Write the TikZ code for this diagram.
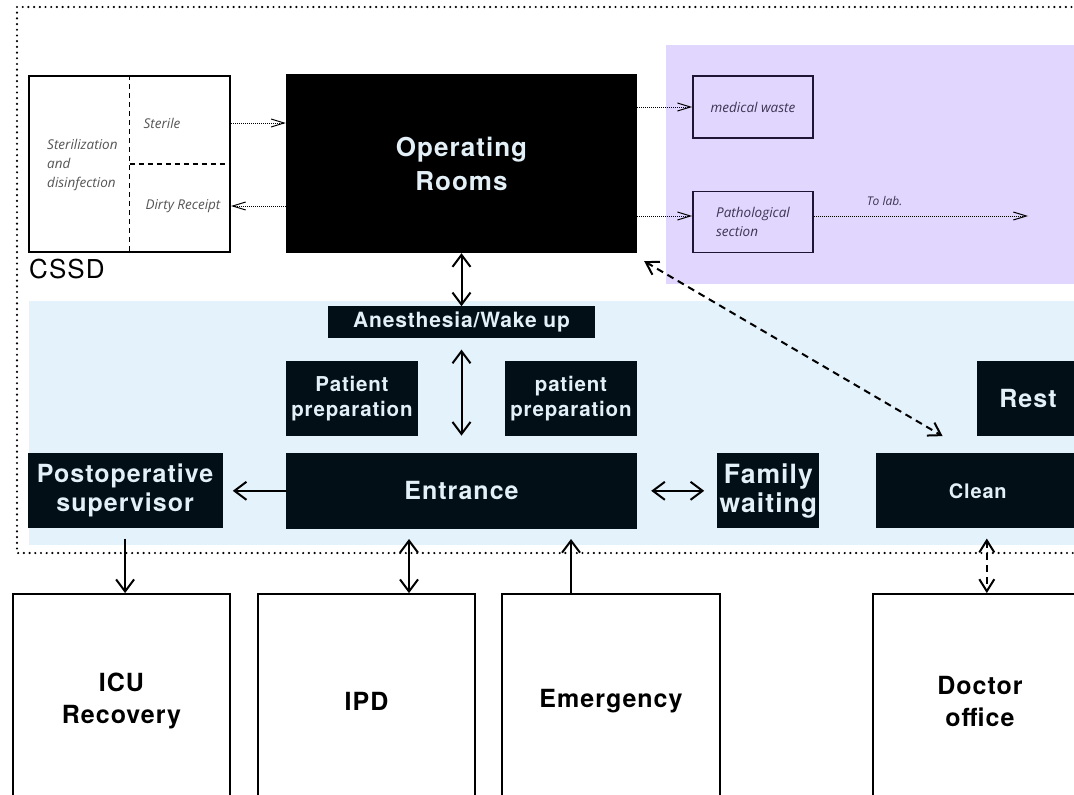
\documentclass[tikz,border=0pt]{standalone}
\usepackage{fontspec}
\setmainfont{TeX Gyre Heros}
\newfontfamily\heavyfont[LetterSpace=4]{TeX Gyre Heros}
\newfontfamily\notefont{Open Sans}
\usepackage{tikz}
\usetikzlibrary{arrows.meta, positioning, calc}
\definecolor{roombg}{RGB}{2,15,23}
\definecolor{roomtext}{RGB}{228,240,247}
\definecolor{zoneblue}{RGB}{228,243,251}
\definecolor{zonepurple}{RGB}{224,214,254}
\definecolor{wasteline}{RGB}{30,20,51}
\definecolor{wastetext}{RGB}{60,52,82}
\definecolor{notegray}{RGB}{85,85,85}
\newcommand\roomfont[2]{\heavyfont\bfseries\fontsize{#1}{#2}\selectfont}
\tikzset{
  roombox/.style 2 args={rectangle, fill=roombg, text=roomtext, inner sep=0pt,
                 align=center, font=\roomfont{#1}{#2}},
  wardbox/.style={rectangle, draw=black, line width=1.8pt, fill=white,
                 inner sep=0pt, align=center, font=\roomfont{25}{32}},
  cssdbox/.style={rectangle, draw=black, line width=2pt, fill=white, inner sep=0pt},
  wastebox/.style={rectangle, draw=wasteline, line width=1.8pt, text=wastetext,
                 inner sep=0pt, align=left, font=\notefont\itshape\fontsize{13.5}{19}\selectfont},
  notetext/.style={inner sep=0pt, text=notegray, align=left,
                 font=\notefont\itshape\fontsize{13.5}{19}\selectfont},
  splitline/.style={line width=1.2pt, dash pattern=on 5pt off 4pt},
  fencedots/.style={line width=2.4pt, line cap=round, dash pattern=on 0pt off 5.7pt},
  oneway/.style={-{Straight Barb[length=12pt,width=18pt]}, line width=2pt},
  twoway/.style={{Straight Barb[length=12pt,width=18pt]}-{Straight Barb[length=12pt,width=18pt]},
                 line width=2pt},
  dashtwoway/.style={{Straight Barb[length=12pt,width=15pt]}-{Straight Barb[length=12pt,width=15pt]},
                 line width=2pt, dash pattern=on 7pt off 5pt},
  dotflow/.style={-{Straight Barb[length=13pt,width=8pt]}, line width=1pt,
                 dash pattern=on 1pt off 1pt},
}

\begin{document}
\begin{tikzpicture}[x=1pt, y=-1pt]
  \clip (0,0) rectangle (1074,795);
  % zones
  \fill[zonepurple] (666,45) rectangle (1100,284);
  \fill[zoneblue] (29,301) rectangle (1100,545);
  \draw[fencedots] (1100,7) -| (17,553) -- (1100,553);

  % CSSD
  \node[cssdbox, minimum width=201pt, minimum height=176pt] (cssd) at (129.5,164) {};
  \draw[splitline] (cssd.north) -- (cssd.south);
  \draw[splitline] (cssd.center) -- (cssd.east);
  \node[notetext, anchor=west] (sterdis) at (47,165) {Sterilization\\and\\disinfection};
  \node[notetext] (sterile) at (162,123) {Sterile};
  \node[notetext] (dirty) at (183,206) {Dirty Receipt};
  \node[inner sep=0pt, anchor=base west, font=\heavyfont\fontsize{26}{30}\selectfont]
    (cssdname) at (29,278) {CSSD};

  % operating rooms and waste
  \node[roombox={26}{34}, fill=black, minimum width=351pt, minimum height=179pt]
    (or) at (461.5,163.5) {Operating\\Rooms};
  \node[wastebox, minimum width=120pt, minimum height=62pt] (waste) at (753,107) {medical waste};
  \node[wastebox, minimum width=120pt, minimum height=61pt] (patho) at (753,222) {Pathological\\section};
  \coordinate (pathin) at ([yshift=6pt]patho.west);
  \coordinate (labexit) at (1028,216);

  % patient flow
  \node[roombox={21}{24}, minimum width=267pt, minimum height=32pt, below=53pt of or]
    (anes) {Anesthesia/Wake up};
  \node[roombox={25}{28}, minimum width=351pt, minimum height=76pt, below=114pt of anes]
    (entrance) {Entrance};
  \node[roombox={20.5}{25}, minimum width=132pt, minimum height=75pt] (prepleft) at (352,398.5)
    {Patient\\preparation};
  \node[roombox={20.5}{25}, minimum width=132pt, minimum height=75pt] (prepright) at (571,398.5)
    {patient\\preparation};
  \node[roombox={25}{29}, minimum width=195pt, minimum height=75pt, left=63pt of entrance]
    (postop) {Postoperative\\supervisor};
  \node[roombox={26.5}{29}, minimum width=102pt, minimum height=75pt, right=80pt of entrance]
    (family) {Family\\waiting};
  \node[roombox={20}{23}, minimum width=204pt, minimum height=75pt, right=56pt of family]
    (clean) {Clean};
  \node[roombox={25}{29}, minimum width=102pt, minimum height=75pt] (rest) at (1028,398.5) {Rest};

  % wards outside
  \node[wardbox, minimum width=217pt, minimum height=214pt] (icu) at (121.5,701) {ICU\\Recovery};
  \node[wardbox, minimum width=217pt, minimum height=214pt] (ipd) at (366.5,701) {IPD};
  \node[wardbox, minimum width=218pt, minimum height=214pt] (emerg) at (611,701) {Emergency};
  \node[wardbox, minimum width=214pt, minimum height=214pt] (doctor) at (980,701) {Doctor\\office};

  % dotted supply lines
  \draw[dotflow] (cssd.east |- sterile) -- (or.west |- sterile);
  \draw[dotflow] (or.west |- dirty) -- (cssd.east |- dirty);
  \draw[dotflow] (or.east |- waste) -- (waste.west);
  \draw[dotflow] (or.east |- pathin) -- (pathin);
  \draw[dotflow] (patho.east |- pathin) -- (labexit)
    node[pos=0.33, above=10pt, inner sep=0pt, text=wastetext,
         font=\notefont\itshape\fontsize{12}{14}\selectfont] {To lab.};

  % connectors
  \draw[twoway] (or.south) -- (anes.north);
  \draw[twoway, shorten <=11pt, shorten >=17pt] (anes.south) -- (entrance.north);
  \draw[oneway, shorten >=10pt] (entrance.west) -- (postop.east);
  \draw[twoway, shorten <=14pt, shorten >=13pt] (entrance.east) -- (family.west);
  \draw[dashtwoway] ([shift={(7pt,-8pt)}]or.south east) -- ([shift={(67pt,17pt)}]clean.north west);
  \draw[oneway, shorten <=10pt] (postop.south) -- (postop.south |- icu.north);
  \coordinate (ipdlink) at ([xshift=-52.5pt]entrance.south);
  \draw[twoway, shorten <=10pt] (ipdlink) -- (ipdlink |- ipd.north);
  \draw[oneway, shorten >=10pt] (emerg.north -| prepright) -- (entrance.south -| prepright);
  \coordinate (cleanlink) at ([xshift=9pt]clean.south);
  \draw[dashtwoway, shorten <=10pt] (cleanlink) -- (cleanlink |- doctor.north);
\end{tikzpicture}
\end{document}
